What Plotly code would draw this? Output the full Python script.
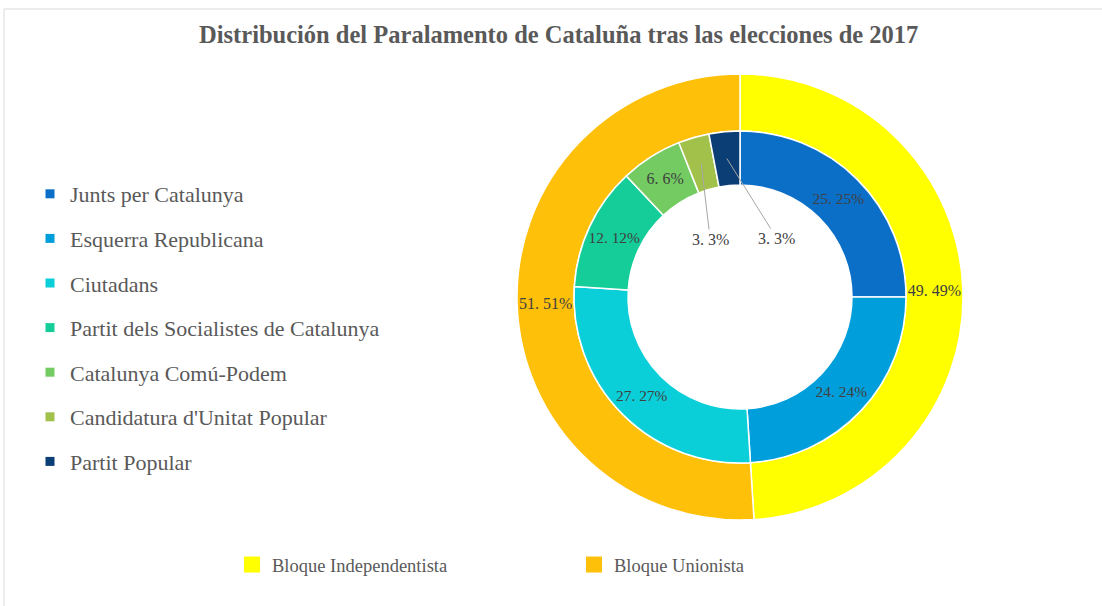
import math
import plotly.graph_objects as go

# ---------------- data ----------------
title = "Distribución del Paralamento de Cataluña tras las elecciones de 2017"
parties = ["Junts per Catalunya", "Esquerra Republicana", "Ciutadans",
           "Partit dels Socialistes de Catalunya", "Catalunya Comú-Podem",
           "Candidatura d'Unitat Popular", "Partit Popular"]
party_values = [25, 24, 27, 12, 6, 3, 3]
party_colors = ["#0B6FC7", "#009FDB", "#0BCFD8", "#14CD98", "#73CB62", "#A2C14B", "#0A3E74"]

blocs = ["Bloque Independentista", "Bloque Unionista"]
bloc_values = [49, 51]
bloc_colors = ["#FFFF00", "#FFC00A"]

# ---------------- geometry (pixels) ----------------
W, H = 1102, 606
cx, cy = 740, 297
r_outer, r_mid, r_hole = 223, 166, 112

def dom(r):
    return dict(x=[(cx - r) / W, (cx + r) / W],
                y=[1 - (cy + r) / H, 1 - (cy - r) / H])

text_font = dict(family="Liberation Serif", size=16, color="#404040")

total_p = sum(party_values)
small = [v / total_p < 0.05 for v in party_values]
inner_templates = ["" if s else "%{value}. %{percent:.0%}" for s in small]

fig = go.Figure()

fig.add_trace(go.Pie(
    labels=blocs, values=bloc_values, sort=False, direction="clockwise", rotation=0,
    hole=r_mid / r_outer, domain=dom(r_outer),
    marker=dict(colors=bloc_colors, line=dict(color="white", width=1.5)),
    texttemplate="%{value}. %{percent:.0%}", textposition="inside",
    insidetextorientation="horizontal", textfont=text_font,
    showlegend=False, hoverinfo="label+value",
))

fig.add_trace(go.Pie(
    labels=parties, values=party_values, sort=False, direction="clockwise", rotation=0,
    hole=r_hole / r_mid, domain=dom(r_mid),
    marker=dict(colors=party_colors, line=dict(color="white", width=1.5)),
    texttemplate=inner_templates, textposition="inside",
    insidetextorientation="horizontal", textfont=text_font,
    showlegend=False, hoverinfo="label+value",
))

# leader-line labels for the small slices, positioned from the data
offsets = {5: (9, 76), 6: (50, 80)}
cum = 0
for i, v in enumerate(party_values):
    mid = (cum + v / 2) / total_p
    cum += v
    if not small[i]:
        continue
    ang = 2 * math.pi * mid
    rr = (r_hole + r_mid) / 2
    px = cx + rr * math.sin(ang)
    py = cy - rr * math.cos(ang)
    ax, ay = offsets.get(i, (0, 70))
    fig.add_annotation(
        x=px / W, y=1 - py / H, xref="paper", yref="paper",
        text=f"{v}. {round(100 * v / total_p)}%", showarrow=True, arrowhead=0,
        arrowwidth=1, arrowcolor="#A6A6A6", ax=ax, ay=ay, font=text_font,
    )

# legend proxies
for name, col in zip(parties, party_colors):
    fig.add_trace(go.Scatter(
        x=[None], y=[None], mode="markers", name=name, legendgroup=name,
        marker=dict(symbol="square", size=9, color=col), legend="legend",
    ))
for name, col in zip(blocs, bloc_colors):
    fig.add_trace(go.Scatter(
        x=[None], y=[None], mode="markers", name=name,
        marker=dict(symbol="square", size=17, color=col), legend="legend2",
    ))

fig.add_shape(type="rect", xref="paper", yref="paper",
              x0=4 / W, x1=1.02, y0=-0.02, y1=1 - 9 / H,
              line=dict(color="#D9D9D9", width=1), fillcolor="rgba(0,0,0,0)", layer="below")

fig.update_layout(
    width=W, height=H,
    margin=dict(l=0, r=0, t=0, b=0),
    paper_bgcolor="white", plot_bgcolor="white",
    title=dict(text=f"<b>{title}</b>", x=0.507, xanchor="center", y=1 - 34 / H, yanchor="middle",
               font=dict(family="Liberation Serif", size=24.5, color="#595959")),
    xaxis=dict(visible=False), yaxis=dict(visible=False),
    legend=dict(x=30 / W, xanchor="left", y=1 - 173 / H, yanchor="top",
                font=dict(family="Liberation Serif", size=22, color="#595959"),
                tracegroupgap=13, bgcolor="rgba(0,0,0,0)"),
    legend2=dict(orientation="h", x=232 / W, xanchor="left", y=1 - 565 / H, yanchor="middle",
                 font=dict(family="Liberation Serif", size=18.5, color="#595959"),
                 entrywidth=297, entrywidthmode="pixels", bgcolor="rgba(0,0,0,0)"),
)

fig.write_html("out.html", config={"displayModeBar": False},
               post_script="document.body.style.margin='0px';")
